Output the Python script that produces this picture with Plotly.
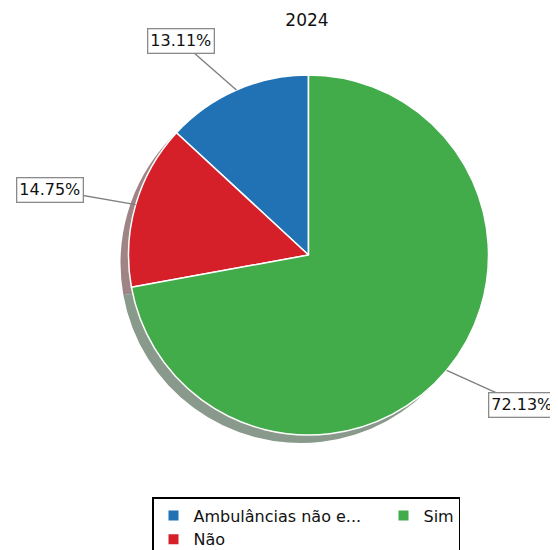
import math
import plotly.graph_objects as go

# ---- data ----
categories = ["Ambulâncias não e...", "Não", "Sim"]
values = [13.11, 14.75, 72.13]
colors = ["#2171b5", "#d5202a", "#42ab4a"]
legend_order = ["Ambulâncias não e...", "Sim", "Não"]
title_text = "2024"

# ---- layout constants (page pixels) ----
PAGE_OFF = 8                     # default body margin of the html page
W, H = 558 - PAGE_OFF, 550 - PAGE_OFF
ML, MR, MT, MB = 32, 18, 0, 0
GW, GH = W - ML - MR, H - MT - MB
CX, CY, R = 308.5, 255.0, 180.0
SHADOW_DX, SHADOW_DY = -8, 8
FONT = "DejaVu Sans"


def px_x(px):
    return (px - PAGE_OFF - ML) / GW


def px_y(py):
    return 1 - (py - PAGE_OFF - MT) / GH


def shade(hex_color):
    h = hex_color.lstrip("#")
    rgb = [int(h[i:i + 2], 16) for i in (0, 2, 4)]
    s = [round(255 * 0.5 + 0.5 * 0.3 * c) for c in rgb]
    return "rgb({},{},{})".format(*s)


total = sum(values)
# plotly's counterclockwise pies end the first slice at 12 o'clock; shift so it starts there
rot = -360.0 * values[0] / total

fig = go.Figure()

# shadow pie
fig.add_trace(go.Pie(
    labels=categories, values=values, sort=False, direction="counterclockwise",
    rotation=rot, textinfo="none", hoverinfo="skip", showlegend=False,
    marker=dict(colors=[shade(c) for c in colors], line=dict(width=0)),
    domain=dict(x=[px_x(CX - R + SHADOW_DX), px_x(CX + R + SHADOW_DX)],
                y=[px_y(CY + R + SHADOW_DY), px_y(CY - R + SHADOW_DY)]),
))

# main pie
fig.add_trace(go.Pie(
    labels=categories, values=values, sort=False, direction="counterclockwise",
    rotation=rot, textinfo="none", hoverinfo="label+percent", showlegend=False,
    marker=dict(colors=colors, line=dict(color="white", width=1.5)),
    domain=dict(x=[px_x(CX - R), px_x(CX + R)], y=[px_y(CY + R), px_y(CY - R)]),
))

# legend entries (column-major order as in reference)
color_of = dict(zip(categories, colors))
legend_widths = {"Ambulâncias não e...": 185, "Sim": 30, "Não": 185}
for name in legend_order:
    fig.add_trace(go.Scatter(
        x=[None], y=[None], mode="markers", name=name,
        marker=dict(symbol="square", size=10, color=color_of[name]),
        legendwidth=legend_widths[name], hoverinfo="skip",
    ))

# outside labels with leader lines
start = 90.0
LABEL_HALF_W = 35
annotations = []
shapes = []
for cat, v in zip(categories, values):
    span = 360.0 * v / total
    mid = math.radians(start + span / 2)
    start += span
    c, s = math.cos(mid), math.sin(mid)
    ex, ey = CX + R * c, CY - R * s
    lx, ly = CX + 1.3 * R * c, CY - 1.3 * R * s
    side = 1 if c >= 0 else -1
    bx = lx + side * LABEL_HALF_W
    shapes.append(dict(type="line", xref="paper", yref="paper",
                       x0=px_x(ex), y0=px_y(ey), x1=px_x(bx), y1=px_y(ly),
                       line=dict(color="#7f7f7f", width=1.4), layer="above"))
    annotations.append(dict(
        text=f"{v:.2f}%", xref="paper", yref="paper",
        x=px_x(lx), y=px_y(ly), xanchor="left" if side > 0 else "right",
        yanchor="middle", showarrow=False,
        font=dict(family=FONT, size=16, color="#111"),
        bgcolor="white", bordercolor="#8a8a8a", borderwidth=1.3, borderpad=2,
    ))

fig.update_layout(
    width=W, height=H,
    margin=dict(l=ML, r=MR, t=MT, b=MB, autoexpand=False),
    paper_bgcolor="white", plot_bgcolor="white",
    title=dict(text=title_text, x=px_x(307), xref="paper", xanchor="center",
               y=1 - (20 - PAGE_OFF) / H, yref="container", yanchor="middle",
               font=dict(family=FONT, size=17, color="#111")),
    xaxis=dict(visible=False), yaxis=dict(visible=False),
    legend=dict(orientation="h", x=px_x(152), xanchor="left",
                y=px_y(497), yanchor="top",
                bordercolor="black", borderwidth=1.5, bgcolor="white",
                font=dict(family=FONT, size=16, color="#111"),
                itemclick=False, itemdoubleclick=False),
    annotations=annotations, shapes=shapes,
    font=dict(family=FONT),
)

fig.write_html("out.html")
